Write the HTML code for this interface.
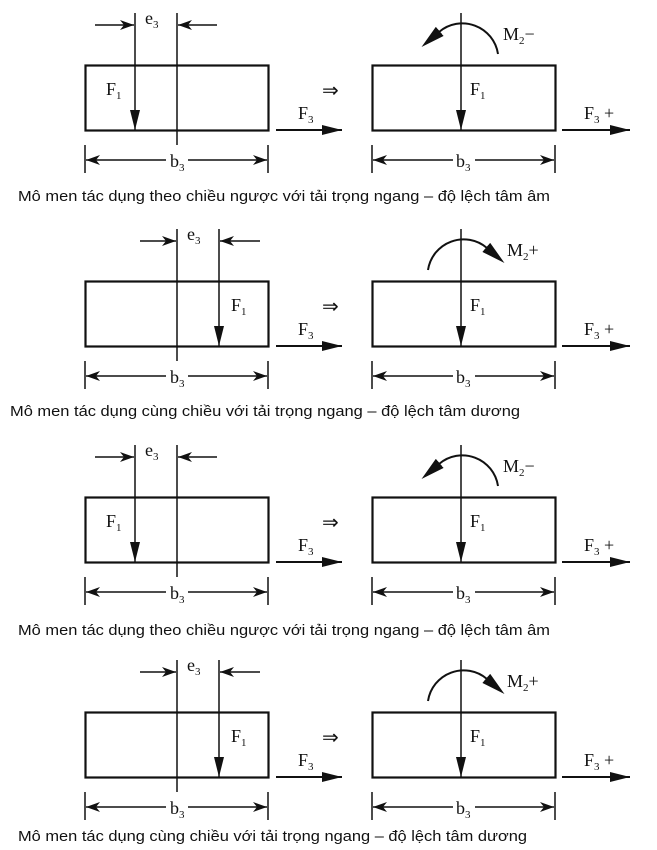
<!DOCTYPE html>
<html><head><meta charset="utf-8"><style>
html,body{margin:0;padding:0;background:#fff;}
svg{display:block;}
.s{font-family:"Liberation Serif",serif;font-size:18px;fill:#111;}
.sub{font-size:11px;}
.c{font-family:"Liberation Sans","DejaVu Sans",sans-serif;font-size:14.5px;fill:#111;}
</style></head><body>
<svg width="657" height="850" viewBox="0 0 657 850" xmlns="http://www.w3.org/2000/svg">
<defs>
<marker id="a" viewBox="0 0 20 10" refX="20" refY="5" markerWidth="20" markerHeight="10" markerUnits="userSpaceOnUse" orient="auto"><path d="M0,0 L20,5 L0,10 Z" fill="#111"/></marker>
<marker id="m" viewBox="0 0 24 12" refX="1" refY="6" markerWidth="24" markerHeight="12" markerUnits="userSpaceOnUse" orient="auto"><path d="M0,0 L24,6 L0,12 Z" fill="#111"/></marker>
<marker id="d" viewBox="0 0 14 10" refX="14" refY="5" markerWidth="14" markerHeight="10" markerUnits="userSpaceOnUse" orient="auto"><path d="M0,0 L14,5 L0,10 L4,5 Z" fill="#111"/></marker>
</defs>

<!-- Panel 1 (negative) -->
<g transform="translate(0,0)">
<g stroke="#111" fill="none" stroke-width="1.5">
<rect x="85.5" y="65.5" width="183" height="65" stroke-width="2.2"/>
<line x1="177" y1="13" x2="177" y2="145"/>
<line x1="135" y1="13" x2="135" y2="130" marker-end="url(#a)"/>
<line x1="95" y1="25" x2="134" y2="25" marker-end="url(#d)"/>
<line x1="217" y1="25" x2="178" y2="25" marker-end="url(#d)"/>
<line x1="85" y1="145" x2="85" y2="173"/><line x1="268" y1="145" x2="268" y2="173"/>
<line x1="166" y1="160" x2="86" y2="160" marker-end="url(#d)"/>
<line x1="188" y1="160" x2="267" y2="160" marker-end="url(#d)"/>
<line x1="276" y1="130" x2="342" y2="130" marker-end="url(#a)" stroke-width="2"/>
<rect x="372.5" y="65.5" width="183" height="65" stroke-width="2.2"/>
<line x1="461" y1="13" x2="461" y2="130" marker-end="url(#a)"/>
<path d="M498,54 A36,36 0 0 0 439,32" stroke-width="2" marker-end="url(#m)"/>
<line x1="372" y1="145" x2="372" y2="173"/><line x1="555" y1="145" x2="555" y2="173"/>
<line x1="453" y1="160" x2="373" y2="160" marker-end="url(#d)"/>
<line x1="475" y1="160" x2="554" y2="160" marker-end="url(#d)"/>
<line x1="562" y1="130" x2="630" y2="130" marker-end="url(#a)" stroke-width="2"/>
</g>
<text class="s" x="145" y="24">e<tspan class="sub" dy="4">3</tspan></text>
<text class="s" x="106" y="95">F<tspan class="sub" dy="4">1</tspan></text>
<text class="s" x="170" y="167">b<tspan class="sub" dy="4">3</tspan></text>
<text class="s" x="298" y="119">F<tspan class="sub" dy="4">3</tspan></text>
<text class="s" x="322" y="97" style="font-size:20px">⇒</text>
<text class="s" x="470" y="95">F<tspan class="sub" dy="4">1</tspan></text>
<text class="s" x="456" y="167">b<tspan class="sub" dy="4">3</tspan></text>
<text class="s" x="503" y="40">M<tspan class="sub" dy="4">2</tspan><tspan dy="-4">−</tspan></text>
<text class="s" x="584" y="119">F<tspan class="sub" dy="4">3</tspan><tspan dy="-4"> +</tspan></text>
</g>

<!-- Panel 2 (positive) -->
<g transform="translate(0,216)">
<g stroke="#111" fill="none" stroke-width="1.5">
<rect x="85.5" y="65.5" width="183" height="65" stroke-width="2.2"/>
<line x1="177" y1="13" x2="177" y2="145"/>
<line x1="219" y1="13" x2="219" y2="130" marker-end="url(#a)"/>
<line x1="140" y1="25" x2="176" y2="25" marker-end="url(#d)"/>
<line x1="260" y1="25" x2="220" y2="25" marker-end="url(#d)"/>
<line x1="85" y1="145" x2="85" y2="173"/><line x1="268" y1="145" x2="268" y2="173"/>
<line x1="166" y1="160" x2="86" y2="160" marker-end="url(#d)"/>
<line x1="188" y1="160" x2="267" y2="160" marker-end="url(#d)"/>
<line x1="276" y1="130" x2="342" y2="130" marker-end="url(#a)" stroke-width="2"/>
<rect x="372.5" y="65.5" width="183" height="65" stroke-width="2.2"/>
<line x1="461" y1="13" x2="461" y2="130" marker-end="url(#a)"/>
<path d="M428,54 A36,36 0 0 1 487,32" stroke-width="2" marker-end="url(#m)"/>
<line x1="372" y1="145" x2="372" y2="173"/><line x1="555" y1="145" x2="555" y2="173"/>
<line x1="453" y1="160" x2="373" y2="160" marker-end="url(#d)"/>
<line x1="475" y1="160" x2="554" y2="160" marker-end="url(#d)"/>
<line x1="562" y1="130" x2="630" y2="130" marker-end="url(#a)" stroke-width="2"/>
</g>
<text class="s" x="187" y="24">e<tspan class="sub" dy="4">3</tspan></text>
<text class="s" x="231" y="95">F<tspan class="sub" dy="4">1</tspan></text>
<text class="s" x="170" y="167">b<tspan class="sub" dy="4">3</tspan></text>
<text class="s" x="298" y="119">F<tspan class="sub" dy="4">3</tspan></text>
<text class="s" x="322" y="97" style="font-size:20px">⇒</text>
<text class="s" x="470" y="95">F<tspan class="sub" dy="4">1</tspan></text>
<text class="s" x="456" y="167">b<tspan class="sub" dy="4">3</tspan></text>
<text class="s" x="507" y="40">M<tspan class="sub" dy="4">2</tspan><tspan dy="-4">+</tspan></text>
<text class="s" x="584" y="119">F<tspan class="sub" dy="4">3</tspan><tspan dy="-4"> +</tspan></text>
</g>

<!-- Panel 3 (negative) -->
<g transform="translate(0,432)">
<g stroke="#111" fill="none" stroke-width="1.5">
<rect x="85.5" y="65.5" width="183" height="65" stroke-width="2.2"/>
<line x1="177" y1="13" x2="177" y2="145"/>
<line x1="135" y1="13" x2="135" y2="130" marker-end="url(#a)"/>
<line x1="95" y1="25" x2="134" y2="25" marker-end="url(#d)"/>
<line x1="217" y1="25" x2="178" y2="25" marker-end="url(#d)"/>
<line x1="85" y1="145" x2="85" y2="173"/><line x1="268" y1="145" x2="268" y2="173"/>
<line x1="166" y1="160" x2="86" y2="160" marker-end="url(#d)"/>
<line x1="188" y1="160" x2="267" y2="160" marker-end="url(#d)"/>
<line x1="276" y1="130" x2="342" y2="130" marker-end="url(#a)" stroke-width="2"/>
<rect x="372.5" y="65.5" width="183" height="65" stroke-width="2.2"/>
<line x1="461" y1="13" x2="461" y2="130" marker-end="url(#a)"/>
<path d="M498,54 A36,36 0 0 0 439,32" stroke-width="2" marker-end="url(#m)"/>
<line x1="372" y1="145" x2="372" y2="173"/><line x1="555" y1="145" x2="555" y2="173"/>
<line x1="453" y1="160" x2="373" y2="160" marker-end="url(#d)"/>
<line x1="475" y1="160" x2="554" y2="160" marker-end="url(#d)"/>
<line x1="562" y1="130" x2="630" y2="130" marker-end="url(#a)" stroke-width="2"/>
</g>
<text class="s" x="145" y="24">e<tspan class="sub" dy="4">3</tspan></text>
<text class="s" x="106" y="95">F<tspan class="sub" dy="4">1</tspan></text>
<text class="s" x="170" y="167">b<tspan class="sub" dy="4">3</tspan></text>
<text class="s" x="298" y="119">F<tspan class="sub" dy="4">3</tspan></text>
<text class="s" x="322" y="97" style="font-size:20px">⇒</text>
<text class="s" x="470" y="95">F<tspan class="sub" dy="4">1</tspan></text>
<text class="s" x="456" y="167">b<tspan class="sub" dy="4">3</tspan></text>
<text class="s" x="503" y="40">M<tspan class="sub" dy="4">2</tspan><tspan dy="-4">−</tspan></text>
<text class="s" x="584" y="119">F<tspan class="sub" dy="4">3</tspan><tspan dy="-4"> +</tspan></text>
</g>

<!-- Panel 4 (positive) -->
<g transform="translate(0,647)">
<g stroke="#111" fill="none" stroke-width="1.5">
<rect x="85.5" y="65.5" width="183" height="65" stroke-width="2.2"/>
<line x1="177" y1="13" x2="177" y2="145"/>
<line x1="219" y1="13" x2="219" y2="130" marker-end="url(#a)"/>
<line x1="140" y1="25" x2="176" y2="25" marker-end="url(#d)"/>
<line x1="260" y1="25" x2="220" y2="25" marker-end="url(#d)"/>
<line x1="85" y1="145" x2="85" y2="173"/><line x1="268" y1="145" x2="268" y2="173"/>
<line x1="166" y1="160" x2="86" y2="160" marker-end="url(#d)"/>
<line x1="188" y1="160" x2="267" y2="160" marker-end="url(#d)"/>
<line x1="276" y1="130" x2="342" y2="130" marker-end="url(#a)" stroke-width="2"/>
<rect x="372.5" y="65.5" width="183" height="65" stroke-width="2.2"/>
<line x1="461" y1="13" x2="461" y2="130" marker-end="url(#a)"/>
<path d="M428,54 A36,36 0 0 1 487,32" stroke-width="2" marker-end="url(#m)"/>
<line x1="372" y1="145" x2="372" y2="173"/><line x1="555" y1="145" x2="555" y2="173"/>
<line x1="453" y1="160" x2="373" y2="160" marker-end="url(#d)"/>
<line x1="475" y1="160" x2="554" y2="160" marker-end="url(#d)"/>
<line x1="562" y1="130" x2="630" y2="130" marker-end="url(#a)" stroke-width="2"/>
</g>
<text class="s" x="187" y="24">e<tspan class="sub" dy="4">3</tspan></text>
<text class="s" x="231" y="95">F<tspan class="sub" dy="4">1</tspan></text>
<text class="s" x="170" y="167">b<tspan class="sub" dy="4">3</tspan></text>
<text class="s" x="298" y="119">F<tspan class="sub" dy="4">3</tspan></text>
<text class="s" x="322" y="97" style="font-size:20px">⇒</text>
<text class="s" x="470" y="95">F<tspan class="sub" dy="4">1</tspan></text>
<text class="s" x="456" y="167">b<tspan class="sub" dy="4">3</tspan></text>
<text class="s" x="507" y="40">M<tspan class="sub" dy="4">2</tspan><tspan dy="-4">+</tspan></text>
<text class="s" x="584" y="119">F<tspan class="sub" dy="4">3</tspan><tspan dy="-4"> +</tspan></text>
</g>

<text class="c" x="18" y="201" textLength="532" lengthAdjust="spacingAndGlyphs">Mô men tác dụng theo chiều ngược với tải trọng ngang – độ lệch tâm âm</text>
<text class="c" x="10" y="416" textLength="510" lengthAdjust="spacingAndGlyphs">Mô men tác dụng cùng chiều với tải trọng ngang – độ lệch tâm dương</text>
<text class="c" x="18" y="635" textLength="532" lengthAdjust="spacingAndGlyphs">Mô men tác dụng theo chiều ngược với tải trọng ngang – độ lệch tâm âm</text>
<text class="c" x="18" y="841" textLength="509" lengthAdjust="spacingAndGlyphs">Mô men tác dụng cùng chiều với tải trọng ngang – độ lệch tâm dương</text>
</svg>
</body></html>
